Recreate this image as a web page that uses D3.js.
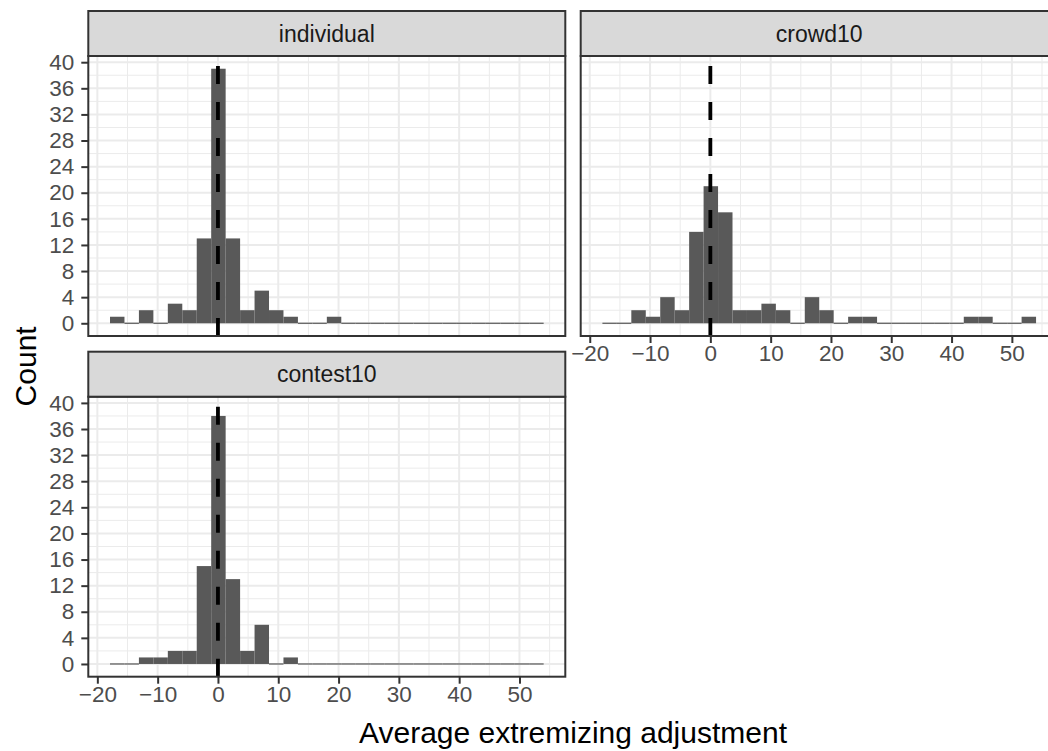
<!DOCTYPE html>
<html>
<head>
<meta charset="utf-8">
<script src="https://cdn.jsdelivr.net/npm/d3@7"></script>
<style>
  body { margin: 0; background: #fff; }
  text { font-family: "Liberation Sans", Arial, Helvetica, sans-serif; }
</style>
</head>
<body>
<svg id="chart" width="1048" height="751"></svg>
<script>
// histogram bins (shared by all facets)
var binStart = -17.9, binWidth = 2.397;
// counts per bin
var individual = [1,0,2,0,3,2,13,39,13,2,5,2,1,0,0,1,0,0,0,0,0,0,0,0,0,0,0,0,0,0];
var crowd10    = [0,0,2,1,4,2,14,21,17,2,2,3,2,0,4,2,0,1,1,0,0,0,0,0,0,1,1,0,0,1];
var contest10  = [0,0,1,1,2,2,15,38,13,2,6,0,1,0,0,0,0,0,0,0,0,0,0,0,0,0,0,0,0,0];

var xTicks = [-20, -10, 0, 10, 20, 30, 40, 50];
var xMinor = [-15, -5, 5, 15, 25, 35, 45, 55];
var yTicks = [0, 4, 8, 12, 16, 20, 24, 28, 32, 36, 40];
var yMinor = [2, 6, 10, 14, 18, 22, 26, 30, 34, 38];

var panelW = 477, panelH = 280, stripH = 45;
var svg = d3.select("#chart");

var x = d3.scaleLinear().domain([-21.5, 57.6]).range([0, panelW]);
var y = d3.scaleLinear().domain([-1.95, 40.95]).range([panelH, 0]);

var fmt = function(d) { return d < 0 ? "\u2212" + Math.abs(d) : "" + d; };

var panels = [
  {name: "individual", data: individual, left: 88.3, top: 56, yAxis: true, xAxis: false},
  {name: "crowd10", data: crowd10, left: 580.7, top: 56, yAxis: false, xAxis: true},
  {name: "contest10", data: contest10, left: 88.3, top: 396.7, yAxis: true, xAxis: true}
];

panels.forEach(function(p) {
  var g = svg.append("g").attr("transform", "translate(" + p.left + "," + p.top + ")");

  g.append("rect").attr("width", panelW).attr("height", panelH).attr("fill", "#fff");

  // grid
  g.selectAll(".ymin").data(yMinor).enter().append("line")
    .attr("x1", 0).attr("x2", panelW).attr("y1", y).attr("y2", y)
    .attr("stroke", "#EBEBEB").attr("stroke-width", 1);
  g.selectAll(".xmin").data(xMinor).enter().append("line")
    .attr("y1", 0).attr("y2", panelH).attr("x1", x).attr("x2", x)
    .attr("stroke", "#EBEBEB").attr("stroke-width", 1);
  g.selectAll(".ymaj").data(yTicks).enter().append("line")
    .attr("x1", 0).attr("x2", panelW).attr("y1", y).attr("y2", y)
    .attr("stroke", "#EBEBEB").attr("stroke-width", 2);
  g.selectAll(".xmaj").data(xTicks).enter().append("line")
    .attr("y1", 0).attr("y2", panelH).attr("x1", x).attr("x2", x)
    .attr("stroke", "#EBEBEB").attr("stroke-width", 2);

  // bars
  g.selectAll(".bar").data(p.data).enter().append("rect")
    .attr("x", function(d, i) { return x(binStart + i * binWidth); })
    .attr("width", x(binWidth) - x(0))
    .attr("y", function(d) { return d > 0 ? y(d) : y(0) - 0.6; })
    .attr("height", function(d) { return d > 0 ? y(0) - y(d) : 1.2; })
    .attr("fill", "#595959");

  // zero line
  g.append("line")
    .attr("x1", x(0)).attr("x2", x(0)).attr("y1", panelH).attr("y2", 0)
    .attr("stroke", "#000").attr("stroke-width", 3.8)
    .attr("stroke-dasharray", "18,18");

  g.append("rect").attr("width", panelW).attr("height", panelH)
    .attr("fill", "none").attr("stroke", "#333333").attr("stroke-width", 2);

  // strip
  var s = svg.append("g").attr("transform", "translate(" + p.left + "," + (p.top - stripH) + ")");
  s.append("rect").attr("width", panelW).attr("height", stripH)
    .attr("fill", "#D9D9D9").attr("stroke", "#333333").attr("stroke-width", 2);
  s.append("text").attr("x", panelW / 2).attr("y", stripH / 2).attr("dy", "0.35em")
    .attr("text-anchor", "middle").attr("font-size", 23).attr("fill", "#1A1A1A")
    .text(p.name);

  if (p.yAxis) {
    var ya = g.append("g").call(d3.axisLeft(y).tickValues(yTicks).tickSize(7).tickPadding(7));
    ya.select(".domain").remove();
    ya.selectAll("line").attr("stroke", "#333333").attr("stroke-width", 2);
    ya.selectAll("text").attr("font-size", 22.5).attr("fill", "#4D4D4D")
      .attr("font-family", "Liberation Sans, Arial, sans-serif");
  }
  if (p.xAxis) {
    var xa = g.append("g").attr("transform", "translate(0," + panelH + ")")
      .call(d3.axisBottom(x).tickValues(xTicks).tickFormat(fmt).tickSize(7).tickPadding(2));
    xa.select(".domain").remove();
    xa.selectAll("line").attr("stroke", "#333333").attr("stroke-width", 2);
    xa.selectAll("text").attr("font-size", 22.5).attr("fill", "#4D4D4D")
      .attr("font-family", "Liberation Sans, Arial, sans-serif");
  }
});

// axis titles
svg.append("text")
  .attr("x", (88.3 + 580.7 + panelW) / 2).attr("y", 743)
  .attr("text-anchor", "middle").attr("font-size", 30).attr("fill", "#000")
  .text("Average extremizing adjustment");

svg.append("text")
  .attr("transform", "translate(36," + (56 + (396.7 + panelH - 56) / 2) + ") rotate(-90)")
  .attr("text-anchor", "middle").attr("font-size", 30).attr("fill", "#000")
  .text("Count");
</script>
</body>
</html>
